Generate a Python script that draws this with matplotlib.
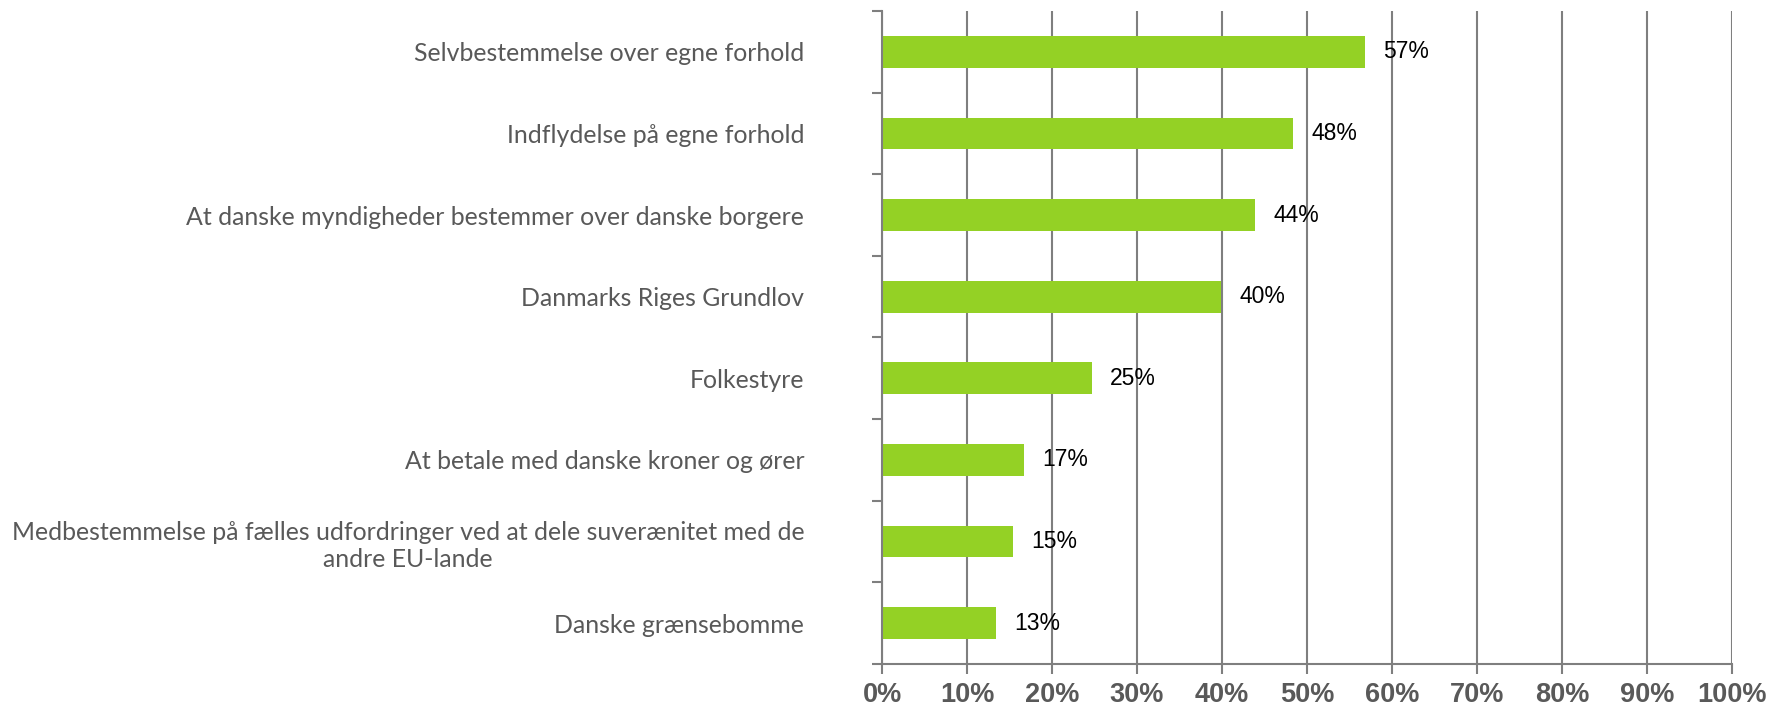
import numpy as np
import matplotlib.pyplot as plt
from matplotlib.ticker import FixedLocator

# Data-
categories = [
    "Selvbestemmelse over egne forhold",
    "Indflydelse på egne forhold",
    "At danske myndigheder bestemmer over danske borgere",
    "Danmarks Riges Grundlov",
    "Folkestyre",
    "At betale med danske kroner og ører",
    "Medbestemmelse på fælles udfordringer ved at dele suverænitet med de\nandre EU-lande",
    "Danske grænsebomme",
]
values = [56.8, 48.4, 43.9, 39.9, 24.7, 16.7, 15.4, 13.4]
value_labels = ["57%", "48%", "44%", "40%", "25%", "17%", "15%", "13%"]
x_ticks = list(range(0, 101, 10))
x_tick_labels = [f"{t}%" for t in x_ticks]

bar_color = "#94D125"
grid_color = "#7f7f7f"
text_gray = "#595959"

fig = plt.figure(figsize=(17.68, 7.09), dpi=100)
ax = fig.add_axes([0.4989, 0.0635, 0.4807, 0.921])

y = np.arange(len(categories))
ax.barh(y, values, height=0.39, color=bar_color, zorder=3)

# Value labels-
for yi, v, lab in zip(y, values, value_labels):
    ax.annotate(lab, (v, yi), xytext=(13, 0), textcoords="offset points",
                va="center", ha="left", fontsize=16.5,
                family=["Liberation Sans", "DejaVu Sans"], color="black", zorder=4)

ax.set_xlim(0, 100)
ax.set_ylim(len(categories) - 0.5, -0.5)

# X axis-
ax.set_xticks(x_ticks)
ax.set_xticklabels(x_tick_labels, fontsize=19.5, fontweight="bold", color=text_gray,
                   family=["Liberation Sans Narrow", "Liberation Sans", "DejaVu Sans"])
ax.tick_params(axis="x", length=7, width=1.5, color=grid_color, pad=6)
ax.xaxis.grid(True, color=grid_color, linewidth=1.5, zorder=0)

# Y axis-
ax.set_yticks(y)
ax.set_yticklabels(categories, fontsize=17.9, color=text_gray, family=["Lato", "DejaVu Sans"],
                   linespacing=1.25)
for lab in ax.get_yticklabels():
    lab.set_multialignment("center")
ax.tick_params(axis="y", which="major", length=0, pad=56)
ax.yaxis.set_minor_locator(FixedLocator(np.arange(-0.5, len(categories), 1.0)))
ax.tick_params(axis="y", which="minor", length=7, width=1.5, color=grid_color)

for side in ["top", "right"]:
    ax.spines[side].set_visible(False)
for side in ["left", "bottom"]:
    ax.spines[side].set_color(grid_color)
    ax.spines[side].set_linewidth(1.5)
    ax.spines[side].set_zorder(5)

fig.savefig("out.png", dpi=100)
